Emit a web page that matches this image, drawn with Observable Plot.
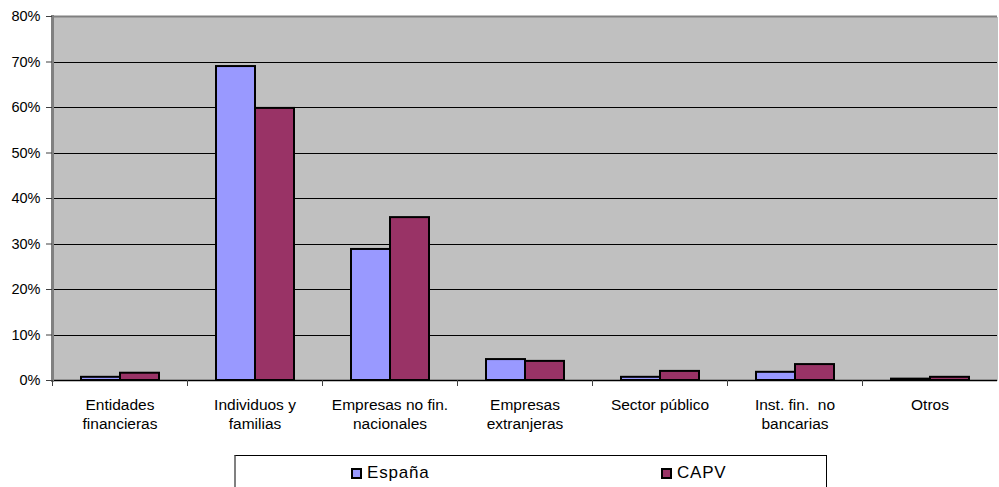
<!DOCTYPE html>
<html>
<head>
<meta charset="utf-8">
<script src="https://cdn.jsdelivr.net/npm/d3@7"></script>
<script src="https://cdn.jsdelivr.net/npm/@observablehq/plot@0.6"></script>
<style>
  body { margin: 0; background: #fff; font-family: "Liberation Sans", Arial, sans-serif; }
  #wrap { position: relative; width: 999px; height: 487px; overflow: hidden; }
  #legend { position: absolute; left: 234px; top: 455px; width: 590px; height: 40px;
            border: 1px solid #000; border-left: 2px solid #808080; background: #fff; font-size: 17px; letter-spacing: 0.8px; }
  .item { position: absolute; top: 7px; display: flex; align-items: center; }
  .sw { width: 7px; height: 7px; border: 2px solid #000; margin-right: 5px; }
</style>
</head>
<body>
<div id="wrap"></div>
<script>
const categories = ["Entidades\nfinancieras", "Individuos y\nfamilias", "Empresas no fin.\nnacionales", "Empresas\nextranjeras", "Sector público", "Inst. fin.  no\nbancarias", "Otros"];
const series = ["España", "CAPV"];
const espana = [0.007, 0.690, 0.288, 0.046, 0.007, 0.018, 0.003];
const capv   = [0.016, 0.598, 0.358, 0.042, 0.020, 0.035, 0.007];
const yTicks = [0, 0.1, 0.2, 0.3, 0.4, 0.5, 0.6, 0.7, 0.8];
const colors = ["#9999FF", "#993366"];

const data = [];
categories.forEach((c, i) => {
  data.push({cat: c, serie: series[0], value: espana[i]});
  data.push({cat: c, serie: series[1], value: capv[i]});
});

const chart = Plot.plot({
  width: 999,
  height: 487,
  marginLeft: 52,
  marginRight: 2,
  marginTop: 16,
  marginBottom: 107,
  style: {fontFamily: "'Liberation Sans', Arial, sans-serif", fontSize: "14px", color: "#000", background: "transparent"},
  fx: {domain: categories, padding: 0, label: null, axis: null},
  x: {domain: series, paddingInner: 0, paddingOuter: 0.73, axis: null},
  y: {domain: [0, 0.8], label: null, axis: null},
  color: {domain: series, range: colors},
  marks: [
    Plot.frame({fill: "#C0C0C0", shapeRendering: "crispEdges"}),
    Plot.ruleY(yTicks.slice(1, -1), {stroke: "#000", strokeWidth: 1, shapeRendering: "crispEdges"}),
    Plot.ruleY([0.8], {stroke: "#808080", strokeWidth: 2}),
    Plot.barY(data, {fx: "cat", x: "serie", y: "value", fill: "serie", stroke: "#000", strokeWidth: 2}),
    Plot.ruleY([0], {stroke: "#000", strokeWidth: 1.5}),
    Plot.frame({anchor: "left", facetAnchor: "left", stroke: "#808080", strokeWidth: 3}),
    Plot.axisY({anchor: "left", ticks: yTicks, tickFormat: d3.format(".0%"), tickSize: 6, tickPadding: 6, stroke: "#404040", fontSize: 14.5, label: null}),
    Plot.axisFx({anchor: "bottom", tickSize: 0, tickPadding: 16, fontSize: 15.5, lineHeight: 1.23, label: null}),
    Plot.axisFx({anchor: "bottom", tickSize: 6, tickFormat: () => "", dx: -67.5, stroke: "#404040", label: null})
  ]
});
document.getElementById("wrap").appendChild(chart);

const legend = document.createElement("div");
legend.id = "legend";
[[115, 0], [425, 1]].forEach(([left, i]) => {
  const it = document.createElement("div");
  it.className = "item";
  it.style.left = left + "px";
  it.innerHTML = `<span class="sw" style="background:${colors[i]}"></span><span>${series[i]}</span>`;
  legend.appendChild(it);
});
document.getElementById("wrap").appendChild(legend);
</script>
</body>
</html>
